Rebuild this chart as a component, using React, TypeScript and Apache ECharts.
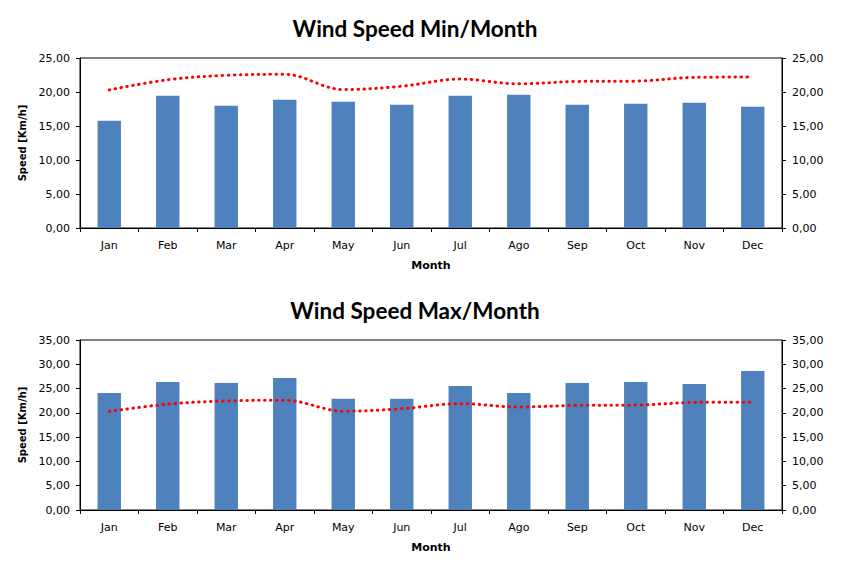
import React, { useEffect, useRef } from "react";
import * as echarts from "echarts";

const months = ["Jan", "Feb", "Mar", "Apr", "May", "Jun", "Jul", "Ago", "Sep", "Oct", "Nov", "Dec"];
const minSpeed = [15.78, 19.46, 17.99, 18.87, 18.58, 18.14, 19.46, 19.61, 18.14, 18.28, 18.43, 17.84];
const maxSpeed = [24.1, 26.37, 26.16, 27.19, 22.88, 22.88, 25.55, 24.1, 26.16, 26.37, 25.96, 28.63];
const avgSpeed = [20.3, 21.8, 22.45, 22.6, 20.35, 20.85, 21.9, 21.2, 21.55, 21.6, 22.15, 22.2];
const titles = ["Wind Speed Min/Month", "Wind Speed Max/Month"];
const yMaxes = [25, 35];

const tickFont = "DejaVu Sans";

export default function App() {
  const ref = useRef<HTMLDivElement>(null);
  useEffect(() => {
    if (!ref.current) return;
    const chart = echarts.init(ref.current, null, { renderer: "svg" });
    const grids = [
      { left: 80, right: 75, top: 58, height: 170 },
      { left: 80, right: 75, top: 340, height: 170 },
    ];
    const fmt = (v: number) => v.toFixed(2).replace(".", ",");
    const xAxes: any[] = [];
    const yAxes: any[] = [];
    const series: any[] = [];
    [0, 1].forEach((i) => {
      xAxes.push({
        type: "category",
        gridIndex: i,
        data: months,
        name: "Month",
        nameLocation: "middle",
        nameGap: 32,
        nameTextStyle: { fontFamily: tickFont, fontWeight: "bold", fontSize: 11, color: "#000" },
        axisLine: { lineStyle: { color: "#000", width: 1 } },
        axisTick: { show: true, length: 4, lineStyle: { color: "#000" } },
        axisLabel: { fontFamily: tickFont, fontSize: 11, color: "#000", margin: 12 },
      });
      const yBase = {
        type: "value",
        gridIndex: i,
        min: 0,
        max: yMaxes[i],
        interval: 5,
        splitLine: { show: false },
        axisLine: { show: true, lineStyle: { color: "#000", width: 1 } },
        axisTick: { show: true, length: 4, lineStyle: { color: "#000" } },
        axisLabel: { fontFamily: tickFont, fontSize: 11, color: "#000", margin: 10, formatter: fmt },
      };
      yAxes.push({
        ...yBase,
        position: "left",
        name: "Speed [Km/h]",
        nameLocation: "middle",
        nameGap: 43,
        nameTextStyle: { fontFamily: tickFont, fontWeight: "bold", fontSize: 10, color: "#000" },
      });
      yAxes.push({ ...yBase, position: "right" });
      series.push({
        type: "bar",
        xAxisIndex: i,
        yAxisIndex: i * 2,
        data: i === 0 ? minSpeed : maxSpeed,
        barWidth: "40%",
        itemStyle: { color: "#4F81BD" },
      });
      series.push({
        type: "line",
        xAxisIndex: i,
        yAxisIndex: i * 2 + 1,
        data: avgSpeed,
        smooth: 0.35,
        symbol: "none",
        lineStyle: { color: "#FF0000", width: 3, type: [0.5, 5.5], cap: "round" },
      });
    });
    chart.setOption({
      animation: false,
      backgroundColor: "#fff",
      grid: grids.map((g) => ({ ...g, show: true, borderColor: "#000", borderWidth: 1, backgroundColor: "transparent" })),
      xAxis: xAxes,
      yAxis: yAxes,
      series,
      graphic: titles.map((t, i) => ({
        type: "text",
        x: 415,
        y: i === 0 ? 28 : 310,
        style: {
          text: t,
          font: "bold 22.5px Lato",
          fill: "#000",
          textAlign: "center",
          textVerticalAlign: "middle",
        },
      })),
    });
    return () => chart.dispose();
  }, []);
  return <div ref={ref} style={{ position: "fixed", left: 0, top: 0, width: 857, height: 570 }} />;
}
